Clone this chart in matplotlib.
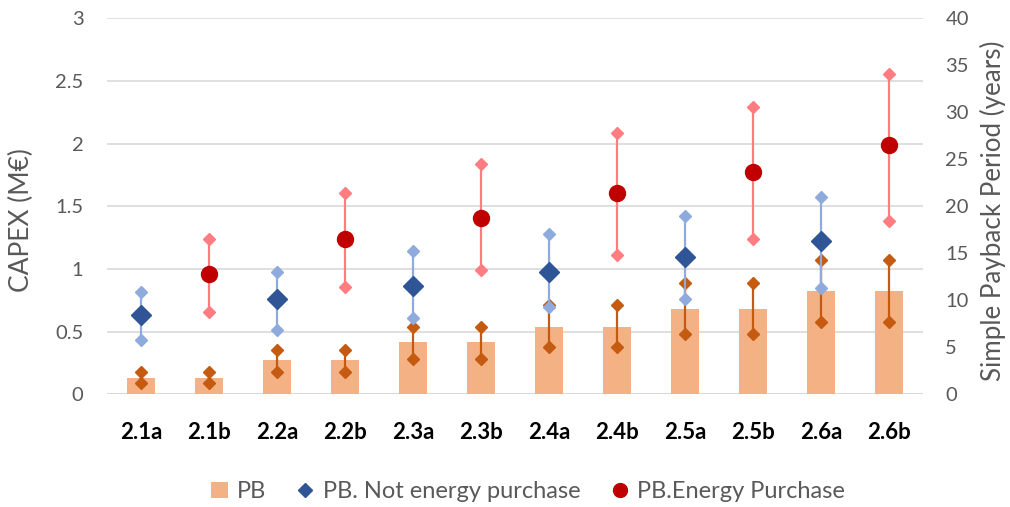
import matplotlib
matplotlib.use("Agg")
import matplotlib.pyplot as plt
import numpy as np
from matplotlib.lines import Line2D
from matplotlib.patches import Patch

plt.rcParams['font.family'] = ['Lato', 'DejaVu Sans']

categories = ['2.1a', '2.1b', '2.2a', '2.2b', '2.3a', '2.3b',
              '2.4a', '2.4b', '2.5a', '2.5b', '2.6a', '2.6b']

# CAPEX (M€) with its low / high range
capex = [0.135, 0.135, 0.275, 0.275, 0.415, 0.415,
         0.54, 0.54, 0.68, 0.68, 0.825, 0.825]
capex_high = [0.18, 0.18, 0.355, 0.355, 0.535, 0.535,
              0.71, 0.71, 0.886, 0.886, 1.072, 1.072]
capex_low = [0.095, 0.095, 0.182, 0.182, 0.28, 0.28,
             0.38, 0.38, 0.48, 0.48, 0.58, 0.58]

# Payback period (years), scenario without energy purchase ("a" cases)
pb_no_cat = ['2.1a', '2.2a', '2.3a', '2.4a', '2.5a', '2.6a']
pb_no = [8.4, 10.1, 11.55, 13.05, 14.6, 16.3]
pb_no_high = [10.9, 13.05, 15.2, 17.1, 19.0, 21.0]
pb_no_low = [5.8, 6.9, 8.1, 9.3, 10.15, 11.3]

# Payback period (years), scenario with energy purchase ("b" cases)
pb_en_cat = ['2.1b', '2.2b', '2.3b', '2.4b', '2.5b', '2.6b']
pb_en = [12.8, 16.5, 18.8, 21.4, 23.7, 26.5]
pb_en_high = [16.5, 21.4, 24.45, 27.8, 30.6, 34.1]
pb_en_low = [8.8, 11.4, 13.2, 14.8, 16.5, 18.4]

bar_color = '#F4B183'
range_color = '#C55A11'
blue_dark = '#2F5597'
blue_light = '#8FAADC'
red_dark = '#C00000'
red_light = '#FF7C80'
grey_text = '#595959'

fig = plt.figure(figsize=(10.1, 5.07), dpi=100)
ax = fig.add_axes([0.106, 0.222, 0.808, 0.742])
ax2 = ax.twinx()

x = np.arange(len(categories))
pos = {c: i for i, c in enumerate(categories)}

ax.bar(x, capex, width=0.41, color=bar_color, zorder=2)
for xi, lo, hi in zip(x, capex_low, capex_high):
    ax.plot([xi, xi], [lo, hi], color=range_color, lw=1.6, zorder=3)
ax.plot(x, capex_high, linestyle='none', marker='D', ms=6.3,
        color=range_color, zorder=4)
ax.plot(x, capex_low, linestyle='none', marker='D', ms=6.3,
        color=range_color, zorder=4)

xa = [pos[c] for c in pb_no_cat]
for xi, lo, hi in zip(xa, pb_no_low, pb_no_high):
    ax2.plot([xi, xi], [lo, hi], color=blue_light, lw=1.6, zorder=3)
ax2.plot(xa, pb_no_high, linestyle='none', marker='D', ms=6.5,
         color=blue_light, zorder=4)
ax2.plot(xa, pb_no_low, linestyle='none', marker='D', ms=6.5,
         color=blue_light, zorder=4)
ax2.plot(xa, pb_no, linestyle='none', marker='D', ms=10,
         color=blue_dark, zorder=5)

xb = [pos[c] for c in pb_en_cat]
for xi, lo, hi in zip(xb, pb_en_low, pb_en_high):
    ax2.plot([xi, xi], [lo, hi], color=red_light, lw=1.6, zorder=3)
ax2.plot(xb, pb_en_high, linestyle='none', marker='D', ms=6.5,
         color=red_light, zorder=4)
ax2.plot(xb, pb_en_low, linestyle='none', marker='D', ms=6.5,
         color=red_light, zorder=4)
ax2.plot(xb, pb_en, linestyle='none', marker='o', ms=11.5,
         color=red_dark, zorder=5)

ax.set_xlim(-0.5, len(categories) - 0.5)
ax.set_ylim(0, 3)
ax2.set_ylim(0, 40)
ax.set_yticks(np.arange(0, 3.01, 0.5))
ax.set_yticklabels(['0', '0.5', '1', '1.5', '2', '2.5', '3'])
ax2.set_yticks(np.arange(0, 41, 5))

ax.yaxis.grid(True, color='#D9D9D9', lw=1.2, zorder=0)
ax.set_axisbelow(True)
for a in (ax, ax2):
    for s in a.spines.values():
        s.set_visible(False)
    a.tick_params(axis='y', length=0, labelsize=14.5, labelcolor=grey_text)
ax.tick_params(axis='y', pad=17)
ax2.tick_params(axis='y', pad=16)
ax.axhline(0, color='#D9D9D9', lw=1.2, zorder=1)

ax.set_xticks(x)
ax.set_xticklabels(categories, fontsize=16, fontweight='bold', color='black')
ax.tick_params(axis='x', length=0, pad=20)

ax.set_ylabel('CAPEX (M€)', fontsize=19, color=grey_text)
ax.yaxis.set_label_coords(-0.089, 0.464)
ax2.set_ylabel('Simple Payback Period (years)', fontsize=18.7,
               color=grey_text)
ax2.yaxis.set_label_coords(1.07, 0.488)

handles = [
    Patch(facecolor=bar_color, edgecolor='none'),
    Line2D([], [], linestyle='none', marker='D', ms=7.5, color=blue_dark),
    Line2D([], [], linestyle='none', marker='o', ms=10, color=red_dark),
]
labels = ['PB', 'PB. Not energy purchase', 'PB.Energy Purchase']
fig.legend(handles, labels, loc='center', bbox_to_anchor=(0.523, 0.03),
           ncol=3, frameon=False, fontsize=17, labelcolor=grey_text,
           handlelength=0.7, handletextpad=0.4, columnspacing=1.3)

fig.savefig('out.png', dpi=100)
